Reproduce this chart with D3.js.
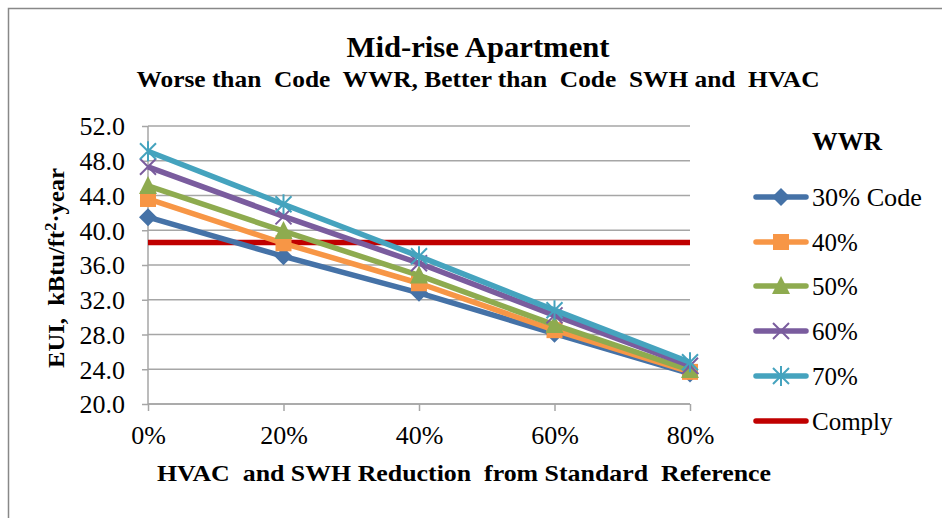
<!DOCTYPE html>
<html><head><meta charset="utf-8">
<script src="https://cdn.jsdelivr.net/npm/d3@7"></script>
<style>body{margin:0;background:#fff}svg{display:block}</style>
</head><body><svg id="c" width="942" height="518"></svg>
<script>
const categories = ["0%","20%","40%","60%","80%"];
const seriesNames = ["30% Code","40%","50%","60%","70%"];
const s30 = [41.5, 37.0, 32.8, 28.1, 23.5];
const s40 = [43.6, 38.5, 33.9, 28.5, 23.7];
const s50 = [45.1, 39.9, 34.8, 29.1, 23.9];
const s60 = [47.3, 41.6, 36.2, 30.2, 24.4];
const s70 = [49.1, 43.0, 37.0, 30.8, 24.8];
const comply = 38.6;
const yTicks = [20,24,28,32,36,40,44,48,52];
const colors = ["#4572A7","#F79646","#8EAB4F","#7A5C9E","#45A3BE"];
const complyColor = "#C00000";
const markers = ["diamond","square","triangle","x","asterisk"];
const allSeries = [s30,s40,s50,s60,s70];

const FONT = '"Liberation Serif","Times New Roman",serif';
const svg = d3.select("#c");
svg.append("rect").attr("x",8.5).attr("y",8.5).attr("width",1000).attr("height",600)
  .attr("fill","#fff").attr("stroke","#888").attr("stroke-width",1.5);

const L=148,R=690,T=126,B=404;
const x = d3.scalePoint().domain(categories).range([L,R]);
const y = d3.scaleLinear().domain([20,52]).range([B,T]);

svg.append("g").selectAll("line").data(yTicks).join("line")
  .attr("x1",L).attr("x2",R).attr("y1",d=>y(d)).attr("y2",d=>y(d))
  .attr("stroke","#a6a6a6").attr("stroke-width",1.5);
const ya = svg.append("g").attr("transform",`translate(${L},0)`)
  .call(d3.axisLeft(y).tickValues(yTicks).tickFormat(d3.format(".1f")).tickSize(6).tickPadding(17));
ya.select(".domain").attr("stroke","#a6a6a6").attr("stroke-width",1.5).attr("d",`M0,${T}V${B}`);
ya.selectAll(".tick line").attr("stroke","#a6a6a6").attr("stroke-width",1.5);
ya.selectAll("text").style("font-family",FONT).style("font-size","26px").attr("fill","#000").attr("dy","0.34em");
const xa = svg.append("g").attr("transform",`translate(0,${B})`)
  .call(d3.axisBottom(x).tickSize(7).tickPadding(15));
xa.select(".domain").attr("stroke","#a6a6a6").attr("stroke-width",1.5).attr("d",`M${L},0H${R}`);
xa.selectAll(".tick line").attr("stroke","#a6a6a6").attr("stroke-width",1.5);
xa.selectAll("text").style("font-family",FONT).style("font-size","26px").attr("fill","#000");

svg.append("line").attr("x1",L).attr("x2",R).attr("y1",y(comply)).attr("y2",y(comply))
  .attr("stroke",complyColor).attr("stroke-width",5.5);

function drawMarker(g, type, cx, cy, color, s){
  s = s||7;
  if(type==="diamond") g.append("path").attr("d",`M${cx},${cy-s-1}L${cx+s+1},${cy}L${cx},${cy+s+1}L${cx-s-1},${cy}Z`).attr("fill",color);
  else if(type==="square") g.append("rect").attr("x",cx-s).attr("y",cy-s).attr("width",2*s).attr("height",2*s).attr("fill",color);
  else if(type==="triangle") g.append("path").attr("d",`M${cx},${cy-s-2}L${cx+s+1},${cy+s}L${cx-s-1},${cy+s}Z`).attr("fill",color);
  else if(type==="x") g.append("path").attr("d",`M${cx-s},${cy-s}L${cx+s},${cy+s}M${cx-s},${cy+s}L${cx+s},${cy-s}`).attr("stroke",color).attr("stroke-width",2);
  else if(type==="asterisk") g.append("path").attr("d",`M${cx-s},${cy-s}L${cx+s},${cy+s}M${cx-s},${cy+s}L${cx+s},${cy-s}M${cx},${cy-s-2}L${cx},${cy+s+2}`).attr("stroke",color).attr("stroke-width",2);
}

const line = d3.line().x((d,i)=>x(categories[i])).y(d=>y(d));
allSeries.forEach((s,k)=>{
  const g = svg.append("g");
  g.append("path").datum(s).attr("d",line).attr("fill","none").attr("stroke",colors[k]).attr("stroke-width",5.5).attr("stroke-linejoin","round");
  s.forEach((v,i)=>drawMarker(g,markers[k],x(categories[i]),y(v),colors[k],8));
});

function txt(xp,yp,str,size,bold,anchor,len){
  const t = svg.append("text").attr("x",xp).attr("y",yp).attr("text-anchor",anchor||"start")
    .style("font-family",FONT).style("font-size",size+"px").style("font-weight",bold?"bold":"normal")
    .style("white-space","pre").attr("fill","#000").text(str);
  if(len) t.attr("textLength",len).attr("lengthAdjust","spacingAndGlyphs");
  return t;
}
txt(478,57,"Mid-rise Apartment",30,true,"middle",263);
txt(478,87,"Worse than  Code  WWR, Better than  Code  SWH and  HVAC",24,true,"middle",683);
txt(464,481,"HVAC  and SWH Reduction  from Standard  Reference",24,true,"middle",614);
const yt = svg.append("text").attr("transform","translate(64,268) rotate(-90)").attr("text-anchor","middle")
  .style("font-family",FONT).style("font-weight","bold").style("font-size","24px").style("white-space","pre")
  .attr("textLength",200).attr("lengthAdjust","spacingAndGlyphs");
yt.append("tspan").text("EUI,  kBtu/ft");
yt.append("tspan").style("font-size","16px").attr("dy",-8).text("2");
yt.append("tspan").attr("dy",8).text("·year");

txt(812,150,"WWR",25,true,"start",70);
const legY = [197,242,286,331,376];
seriesNames.forEach((n,k)=>{
  const g = svg.append("g");
  g.append("line").attr("x1",756).attr("x2",806).attr("y1",legY[k]).attr("y2",legY[k]).attr("stroke",colors[k]).attr("stroke-width",5.5).attr("stroke-linecap","round");
  drawMarker(g,markers[k],781,legY[k],colors[k],8);
  txt(812,legY[k]+9,n,25,false,"start",k===0?110:null);
});
svg.append("line").attr("x1",756).attr("x2",806).attr("y1",421).attr("y2",421).attr("stroke",complyColor).attr("stroke-width",5.5).attr("stroke-linecap","round");
txt(812,430,"Comply",25,false,"start");
</script></body></html>
